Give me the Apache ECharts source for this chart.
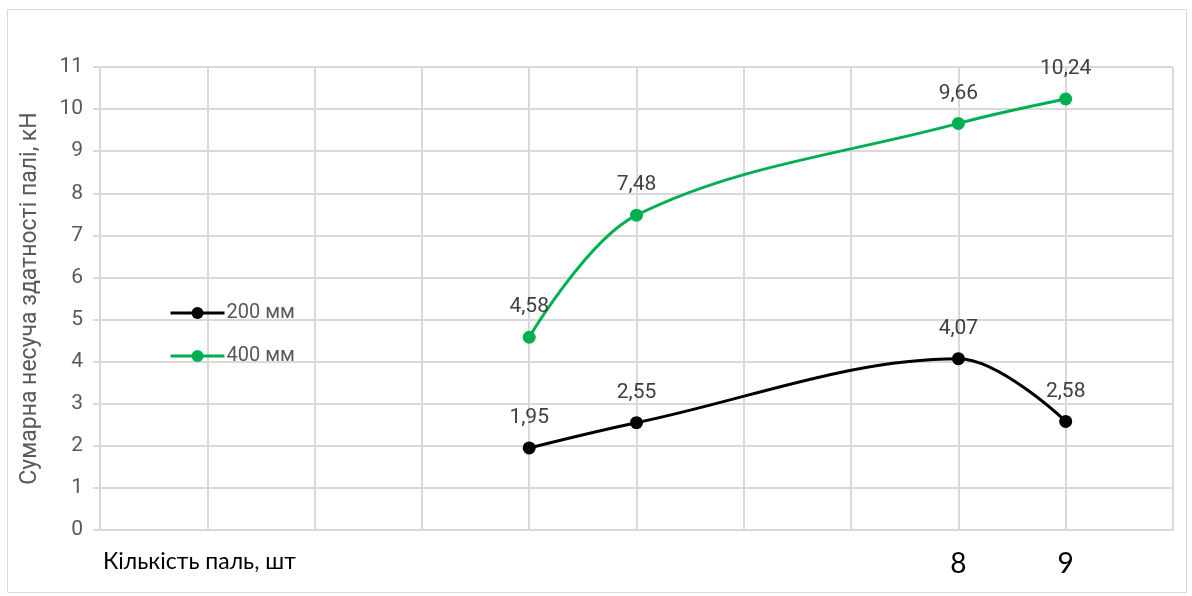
<!DOCTYPE html>
<html>
<head>
<meta charset="utf-8">
<script src="https://cdn.jsdelivr.net/npm/echarts@6/dist/echarts.min.js"></script>
<style>
  html, body { margin: 0; padding: 0; background: #fff; }
  #chart { width: 1192px; height: 596px; }
</style>
</head>
<body>
<div id="chart"></div>
<script>
// Pile count on the x axis, total bearing capacity (kN) on the y axis
const pileCounts = [4, 5, 8, 9];
const series200 = [1.95, 2.55, 4.07, 2.58];
const series400 = [4.58, 7.48, 9.66, 10.24];
const seriesNames = ['200 мм', '400 мм'];
const xTickLabels = { 8: '8', 9: '9' };
const xTitle = 'Кількість паль, шт';
const yTitle = 'Сумарна несуча здатності палі, кН';

const toPairs = (vals) => pileCounts.map((x, i) => [x, vals[i]]);
const fmt = (v) => String(v).replace('.', ',');

const chart = echarts.init(document.getElementById('chart'));

const labelStyle = {
  show: true,
  position: 'top',
  distance: 13,
  fontFamily: 'Roboto',
  fontSize: 21,
  color: '#404040',
  formatter: (p) => fmt(p.value[1])
};

chart.setOption({
  animation: false,
  backgroundColor: '#fff',
  grid: { left: 100, right: 19, top: 67, bottom: 66, containLabel: false },
  graphic: [
    {
      type: 'rect',
      shape: { x: 7.5, y: 9.5, width: 1179, height: 583 },
      style: { fill: 'none', stroke: '#d9d9d9', lineWidth: 1 },
      silent: true
    },
    {
      type: 'text',
      left: 103,
      top: 550,
      style: { text: xTitle, fontFamily: 'Lato', fontSize: 23, fill: '#000' }
    }
  ],
  legend: {
    orient: 'vertical',
    left: 164,
    top: 298,
    itemWidth: 54,
    itemHeight: 15,
    itemGap: 23,
    lineStyle: { width: 3 },
    textStyle: { fontFamily: 'Roboto', fontSize: 20, color: '#595959', padding: [0, 0, 0, -3] },
    data: seriesNames
  },
  xAxis: {
    type: 'value',
    min: 0,
    max: 10,
    interval: 1,
    axisLine: { show: true, lineStyle: { color: '#d9d9d9', width: 2 } },
    axisTick: { show: false },
    splitLine: { show: true, lineStyle: { color: '#d9d9d9', width: 2 } },
    axisLabel: {
      margin: 20,
      fontFamily: 'Lato',
      fontSize: 28,
      color: '#000',
      formatter: (v) => xTickLabels[v] || ''
    }
  },
  yAxis: {
    type: 'value',
    min: 0,
    max: 11,
    interval: 1,
    name: yTitle,
    nameLocation: 'middle',
    nameGap: 58,
    nameTextStyle: { fontFamily: 'Roboto', fontSize: 23, color: '#595959' },
    axisLine: { show: true, lineStyle: { color: '#d9d9d9', width: 2 } },
    axisTick: { show: true, length: 7, lineStyle: { color: '#d9d9d9', width: 2 } },
    splitLine: { show: true, lineStyle: { color: '#d9d9d9', width: 2 } },
    axisLabel: { margin: 17, fontFamily: 'Roboto', fontSize: 21, color: '#595959' }
  },
  series: [
    {
      name: seriesNames[0],
      type: 'line',
      data: toPairs(series200),
      smooth: 0.35,
      symbol: 'circle',
      symbolSize: 13,
      itemStyle: { color: '#000000' },
      lineStyle: { color: '#000000', width: 3 },
      label: labelStyle
    },
    {
      name: seriesNames[1],
      type: 'line',
      data: toPairs(series400),
      smooth: 0.35,
      symbol: 'circle',
      symbolSize: 13,
      itemStyle: { color: '#00b050' },
      lineStyle: { color: '#00b050', width: 3 },
      label: labelStyle
    }
  ]
});
</script>
</body>
</html>
